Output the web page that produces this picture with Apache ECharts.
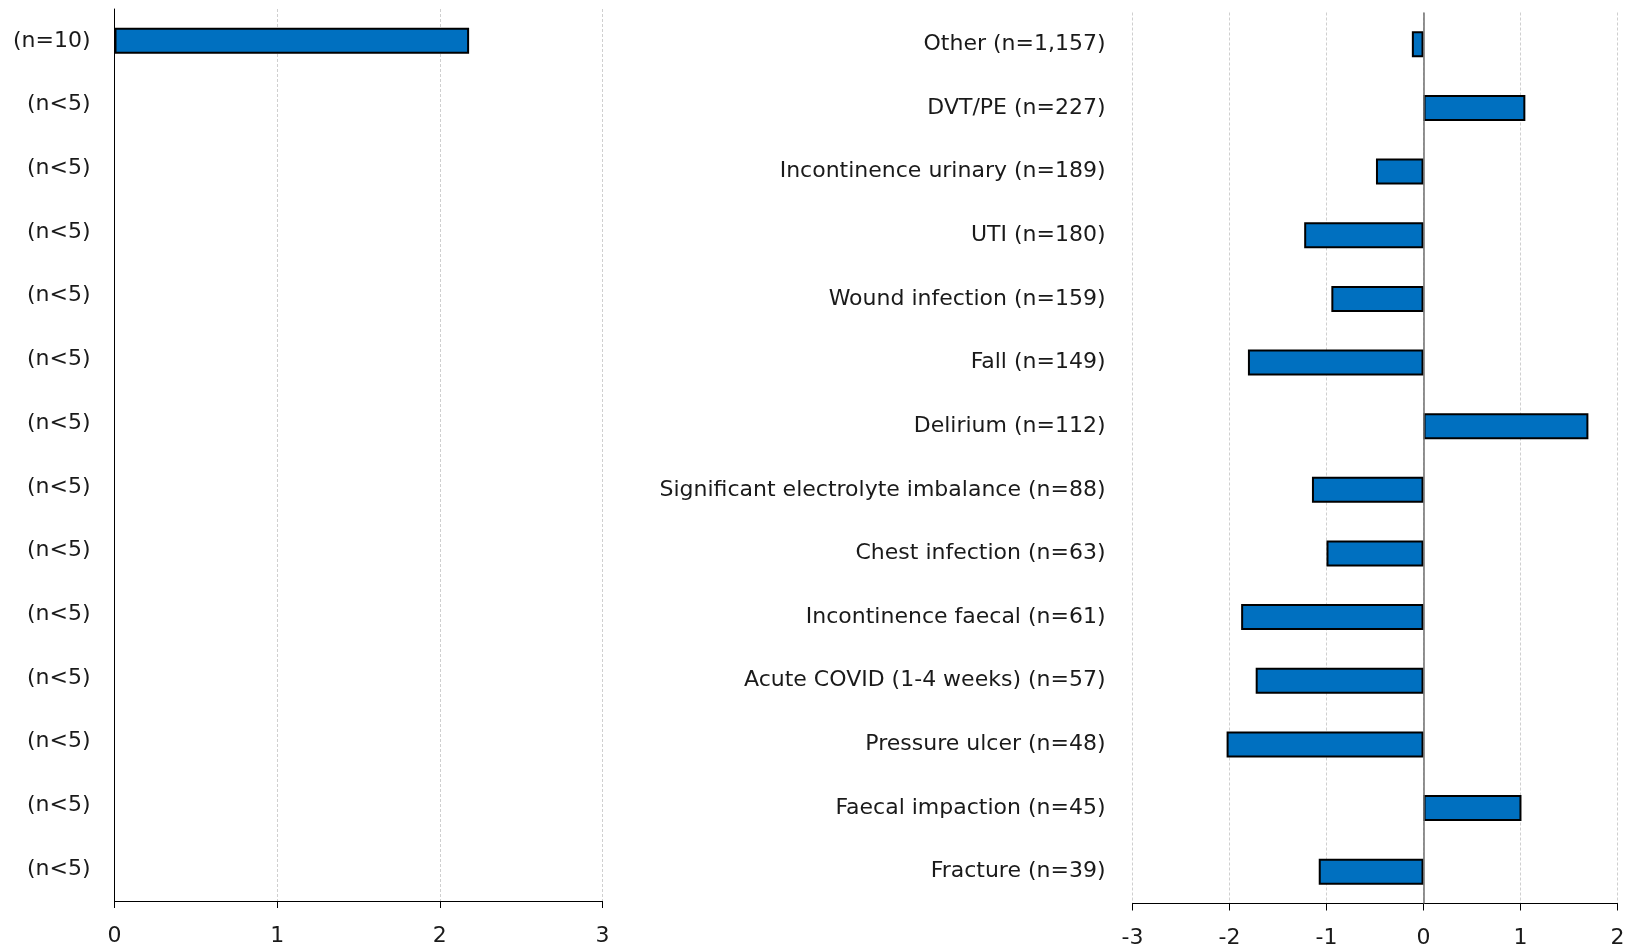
<!DOCTYPE html>
<html>
<head>
<meta charset="utf-8">
<script src="https://cdn.jsdelivr.net/npm/echarts@6/dist/echarts.min.js"></script>
<style>
  html, body { margin: 0; padding: 0; background: #ffffff; }
  #chart { width: 1632px; height: 948px; }
</style>
</head>
<body>
<div id="chart"></div>
<script>
// Left panel: small-count groups
const leftCategories = ['(n=10)', '(n<5)', '(n<5)', '(n<5)', '(n<5)', '(n<5)', '(n<5)',
  '(n<5)', '(n<5)', '(n<5)', '(n<5)', '(n<5)', '(n<5)', '(n<5)'];
const leftValues = [2.18, null, null, null, null, null, null, null, null, null, null, null, null, null];
const leftTicks = [0, 1, 2, 3];

// Right panel: complication types
const rightCategories = ['Other (n=1,157)', 'DVT/PE (n=227)', 'Incontinence urinary (n=189)',
  'UTI (n=180)', 'Wound infection (n=159)', 'Fall (n=149)', 'Delirium (n=112)',
  'Significant electrolyte imbalance (n=88)', 'Chest infection (n=63)',
  'Incontinence faecal (n=61)', 'Acute COVID (1-4 weeks) (n=57)', 'Pressure ulcer (n=48)',
  'Faecal impaction (n=45)', 'Fracture (n=39)'];
const rightValues = [-0.12, 1.05, -0.49, -1.23, -0.95, -1.81, 1.70, -1.15, -1.00, -1.88,
  -1.73, -2.03, 1.01, -1.08];
const rightTicks = [-3, -2, -1, 0, 1, 2];

const FONT = 'DejaVu Sans';
const TEXT = '#1a1a1a';
const BAR = '#0070C0';

const chart = echarts.init(document.getElementById('chart'), null, { renderer: 'canvas' });

function valueAxis(gridIndex, ticks) {
  return {
    type: 'value',
    gridIndex: gridIndex,
    min: ticks[0],
    max: ticks[ticks.length - 1],
    interval: 1,
    axisLine: { show: true, onZero: false, lineStyle: { color: '#000000', width: 1 } },
    axisTick: { show: true, length: 7, lineStyle: { color: '#000000' } },
    axisLabel: { fontFamily: FONT, fontSize: 22, color: TEXT, margin: 24 },
    splitLine: { show: true, lineStyle: { color: '#cfcfcf', type: [3, 2], width: 1 } }
  };
}

chart.setOption({
  animation: false,
  grid: [
    { left: 114.5, right: 1029.5, top: 9, bottom: 47, outerBoundsMode: 'none' },
    { left: 1132.5, right: 14.5, top: 12.5, bottom: 44.5, outerBoundsMode: 'none' }
  ],
  xAxis: [valueAxis(0, leftTicks), valueAxis(1, rightTicks)],
  yAxis: [
    {
      type: 'category', gridIndex: 0, inverse: true, data: leftCategories,
      axisLine: { show: true, lineStyle: { color: '#000000' } },
      axisTick: { show: false },
      axisLabel: { fontFamily: FONT, fontSize: 22, color: TEXT, margin: 24 }
    },
    {
      type: 'category', gridIndex: 1, inverse: true, data: rightCategories,
      axisLine: { show: false },
      axisTick: { show: false },
      axisLabel: { fontFamily: FONT, fontSize: 22, color: TEXT, margin: 27 }
    }
  ],
  series: [
    {
      type: 'bar', xAxisIndex: 0, yAxisIndex: 0, data: leftValues, barWidth: 26,
      itemStyle: { color: BAR, borderColor: '#000000', borderWidth: 2 }
    },
    {
      type: 'bar', xAxisIndex: 1, yAxisIndex: 1, data: rightValues, barWidth: 26,
      itemStyle: { color: BAR, borderColor: '#000000', borderWidth: 2 },
      markLine: {
        silent: true, symbol: 'none', label: { show: false },
        lineStyle: { color: '#6f6f6f', type: 'solid', width: 1.5 },
        data: [{ xAxis: 0 }]
      },
      z: 3
    }
  ]
});
</script>
</body>
</html>
